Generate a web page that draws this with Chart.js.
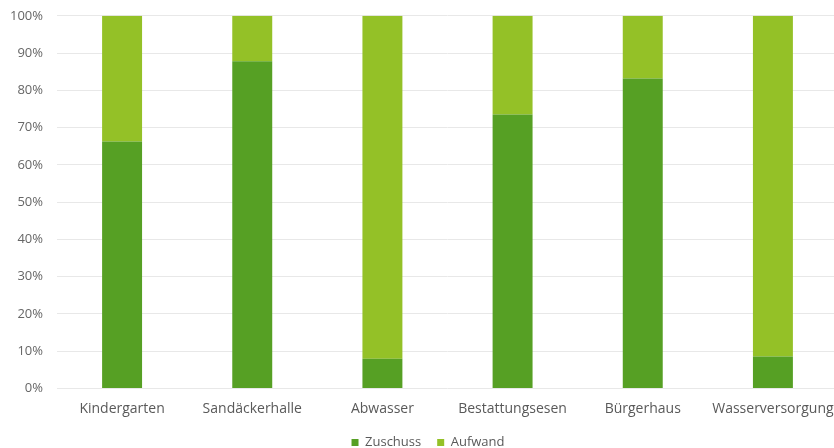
<!DOCTYPE html>
<html>
<head>
<meta charset="utf-8">
<script src="https://cdn.jsdelivr.net/npm/chart.js@4/dist/chart.umd.min.js"></script>
<style>
  html, body { margin: 0; padding: 0; background: #ffffff; overflow: hidden; }
  #wrap { width: 854px; height: 465px; margin-top: -6px; position: relative; }
</style>
</head>
<body>
<div id="wrap"><canvas id="c"></canvas></div>
<script>
const categories = ["Kindergarten", "Sandäckerhalle", "Abwasser", "Bestattungsesen", "Bürgerhaus", "Wasserversorgung"];
const zuschuss = [66.3, 87.8, 8.0, 73.5, 83.2, 8.6];
const aufwand = [33.7, 12.2, 92.0, 26.5, 16.8, 91.4];
const seriesNames = ["Zuschuss", "Aufwand"];
const yTicks = [0, 10, 20, 30, 40, 50, 60, 70, 80, 90, 100];

const FONT = "'Open Sans', 'DejaVu Sans', sans-serif";

// let the y tick labels use the full left margin (avoid clipping by layout padding)
const unclipY = {
  id: 'unclipY',
  afterLayout(chart) { chart.scales.y.left = 0; }
};

new Chart(document.getElementById('c'), {
  type: 'bar',
  data: {
    labels: categories,
    datasets: [
      { label: seriesNames[0], data: zuschuss, backgroundColor: '#56a024', borderWidth: 0 },
      { label: seriesNames[1], data: aufwand, backgroundColor: '#94c127', borderWidth: 0 }
    ]
  },
  plugins: [unclipY],
  options: {
    responsive: true,
    maintainAspectRatio: false,
    animation: false,
    layout: { padding: { left: 18, right: 16, top: 0, bottom: 0 } },
    datasets: { bar: { categoryPercentage: 1.0, barPercentage: 0.307 } },
    plugins: {
      tooltip: { enabled: false },
      legend: {
        position: 'bottom',
        labels: {
          font: { family: FONT, size: 13 },
          color: '#595959',
          boxWidth: 7,
          boxHeight: 7,
          padding: 16
        }
      }
    },
    scales: {
      x: {
        stacked: true,
        grid: { display: false, drawTicks: false },
        border: { display: false },
        afterFit: (s) => { s.height = 31.5; },
        ticks: { font: { family: FONT, size: 14 }, color: '#595959', padding: 12.5, maxRotation: 0, autoSkip: false }
      },
      y: {
        stacked: true,
        min: 0,
        max: 100,
        afterFit: (s) => { s.width = 39; },
        afterBuildTicks: (s) => { s.ticks = yTicks.map(v => ({ value: v })); },
        grid: { color: '#e8e8e8', lineWidth: 1, drawTicks: false },
        border: { display: false },
        ticks: { font: { family: FONT, size: 13 }, color: '#666666', padding: 14, callback: (v) => v + '%' }
      }
    }
  }
});
</script>
</body>
</html>
